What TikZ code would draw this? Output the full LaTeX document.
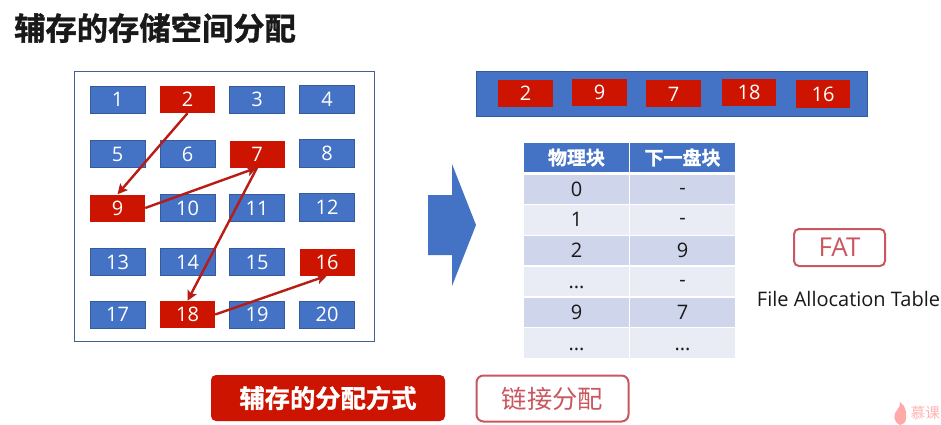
\documentclass[tikz,border=0pt]{standalone}
\usepackage{fontspec}
\setmainfont{Open Sans}
\newfontfamily\cjk{Noto Sans CJK SC}
\newfontfamily\cjkb{Noto Sans CJK SC Bold}
\newfontfamily\cjkh[FakeBold=1.2]{Noto Sans CJK SC Bold}
\definecolor{blk}{HTML}{4472C4}
\definecolor{redb}{HTML}{CC1400}
\definecolor{arr}{HTML}{B81C14}
\definecolor{rose}{HTML}{C9575F}
\definecolor{hd}{HTML}{4472C4}
\definecolor{rowa}{HTML}{CFD5EA}
\definecolor{rowb}{HTML}{E9EBF5}
\definecolor{framec}{HTML}{46608F}
\usetikzlibrary{arrows.meta}
\tikzset{
 cellb/.style={draw=blk!80!black,line width=.8pt,fill=blk,text=white,font=\fontsize{20}{20}\selectfont,inner sep=0pt},
 cellr/.style={fill=redb,text=white,font=\fontsize{20}{20}\selectfont,inner sep=0pt},
 link/.style={draw=arr,line width=2.4pt,-{Stealth[length=10pt,width=10pt,inset=2pt]}},
 tc/.style={inner sep=0pt,font=\fontsize{20}{20}\selectfont,text=black!90,text height=14.3pt,text depth=0pt},
 th/.style={inner sep=0pt,text=white,font=\cjkh\fontsize{19}{19}\selectfont},
}
\newcommand{\dashcell}{\raisebox{2pt}{-}}
\begin{document}
\begin{tikzpicture}[x=1pt,y=-1pt]
\useasboundingbox (0,0) rectangle (941,425);
\fill[white] (0,0) rectangle (941,425);
\node[anchor=west,inner sep=0pt,font=\cjkh\fontsize{31.3}{31.3}\selectfont,text=black!90] (title) at (14,28) {辅存的存储空间分配};
\node[draw=framec,line width=.9pt,fill=white,minimum width=300pt,minimum height=270pt,inner sep=0pt] (frame) at (224,206) {};
% grid
\node[cellb,minimum width=55pt,minimum height=27pt] (c1) at (117.5,99.5) {1};
\node[cellr,minimum width=55pt,minimum height=27pt] (c2) at (187.5,99.5) {2};
\node[cellb,minimum width=55pt,minimum height=27pt] (c3) at (257,99.5) {3};
\node[cellb,minimum width=55pt,minimum height=28pt] (c4) at (327,99) {4};
\node[cellb,minimum width=55pt,minimum height=27pt] (c5) at (117.5,154) {5};
\node[cellb,minimum width=55pt,minimum height=27pt] (c6) at (187.5,154) {6};
\node[cellr,minimum width=55pt,minimum height=27pt] (c7) at (257,154) {7};
\node[cellb,minimum width=55pt,minimum height=28pt] (c8) at (327,153.5) {8};
\node[cellr,minimum width=55pt,minimum height=27pt] (c9) at (117.5,208) {9};
\node[cellb,minimum width=55pt,minimum height=27pt] (c10) at (187.5,208) {10};
\node[cellb,minimum width=55pt,minimum height=27pt] (c11) at (257,208) {11};
\node[cellb,minimum width=55pt,minimum height=28pt] (c12) at (327,207) {12};
\node[cellb,minimum width=55pt,minimum height=27pt] (c13) at (117.5,262) {13};
\node[cellb,minimum width=55pt,minimum height=27pt] (c14) at (187.5,262) {14};
\node[cellb,minimum width=55pt,minimum height=27pt] (c15) at (257,262) {15};
\node[cellr,minimum width=55pt,minimum height=27pt] (c16) at (327,262) {16};
\node[cellb,minimum width=55pt,minimum height=27pt] (c17) at (117.5,314.5) {17};
\node[cellr,minimum width=55pt,minimum height=27pt] (c18) at (187.5,314.5) {18};
\node[cellb,minimum width=55pt,minimum height=27pt] (c19) at (257,314.5) {19};
\node[cellb,minimum width=55pt,minimum height=27pt] (c20) at (327,314.5) {20};
% links
\draw[link] (c2.south) -- (c9.north);
\draw[link] (c9.east) -- (c7.south);
\draw[link] (c7.south) -- (c18.north);
\draw[link] (c18.east) -- (c16.south);
% top bar
\node[draw=blk!80!black,line width=.8pt,fill=blk,minimum width=391pt,minimum height=45pt,inner sep=0pt] (bar) at (671.5,93.5) {};
\node[cellr,minimum width=55pt,minimum height=27pt] (b1) at (525.5,93.5) {2};
\node[cellr,minimum width=55pt,minimum height=27pt] (b2) at (599.5,92.5) {9};
\node[cellr,minimum width=55pt,minimum height=27pt] (b3) at (673.5,94) {7};
\node[cellr,minimum width=54pt,minimum height=27pt] (b4) at (749,92.5) {18};
\node[cellr,minimum width=54pt,minimum height=28pt] (b5) at (823,94) {16};
% big arrow
\fill[blk] (428,195) -- (452,195) -- (452,164) -- (476,225) -- (452,286) -- (452,255) -- (428,255) -- cycle;
% table
\node[fill=hd,th,minimum width=105pt,minimum height=29pt] (h1) at (576.5,157.5) {物理块};
\node[fill=hd,th,minimum width=105pt,minimum height=29pt] (h2) at (682.5,157.5) {下一盘块};
\node[fill=rowa,tc,minimum width=105pt,minimum height=29pt] (r1a) at (576.5,189) {0};
\node[fill=rowa,tc,minimum width=105pt,minimum height=29pt] (r1b) at (682.5,189) {\dashcell};
\node[fill=rowb,tc,minimum width=105pt,minimum height=30pt] (r2a) at (576.5,219.5) {1};
\node[fill=rowb,tc,minimum width=105pt,minimum height=30pt] (r2b) at (682.5,219.5) {\dashcell};
\node[fill=rowa,tc,minimum width=105pt,minimum height=29pt] (r3a) at (576.5,250.5) {2};
\node[fill=rowa,tc,minimum width=105pt,minimum height=29pt] (r3b) at (682.5,250.5) {9};
\node[fill=rowb,tc,minimum width=105pt,minimum height=29pt] (r4a) at (576.5,281.5) {...};
\node[fill=rowb,tc,minimum width=105pt,minimum height=29pt] (r4b) at (682.5,281.5) {\dashcell};
\node[fill=rowa,tc,minimum width=105pt,minimum height=29pt] (r5a) at (576.5,312) {9};
\node[fill=rowa,tc,minimum width=105pt,minimum height=29pt] (r5b) at (682.5,312) {7};
\node[fill=rowb,tc,minimum width=105pt,minimum height=30pt] (r6a) at (576.5,343) {...};
\node[fill=rowb,tc,minimum width=105pt,minimum height=30pt] (r6b) at (682.5,343) {...};
% FAT
\node[draw=rose,line width=2pt,rounded corners=5pt,text=rose,minimum width=91pt,minimum height=37pt,inner sep=0pt,font=\fontsize{26}{26}\selectfont] (fat) at (839.5,247.5) {FAT};
\node[inner sep=0pt,font=\fontsize{20}{20}\selectfont,text=black!90] (fatl) at (848.5,299) {File Allocation Table};
% bottom
\node[fill=redb,rounded corners=5pt,text=white,minimum width=234pt,minimum height=46pt,inner sep=0pt,font=\cjkh\fontsize{25.3}{25.3}\selectfont] (mode) at (328,398) {辅存的分配方式};
\node[draw=rose,line width=2pt,rounded corners=7pt,fill=white,text=rose,minimum width=152pt,minimum height=46pt,inner sep=0pt,font=\cjk\fontsize{25.3}{25.3}\selectfont] (link) at (552.5,398.5) {链接分配};
% watermark
\fill[red!45!white!75] (900,425) .. controls (893,422) and (893,414) .. (897,410) .. controls (899,408) and (900,406) .. (900,402) .. controls (905,405) and (907,412) .. (906,418) .. controls (906,422) and (904,424) .. (900,425) -- cycle;
\node[anchor=west,inner sep=0pt,text=red!35!white!85,font=\cjk\fontsize{14.6}{14.6}\selectfont] (wm) at (910.5,413) {慕课};
\end{tikzpicture}
\end{document}
